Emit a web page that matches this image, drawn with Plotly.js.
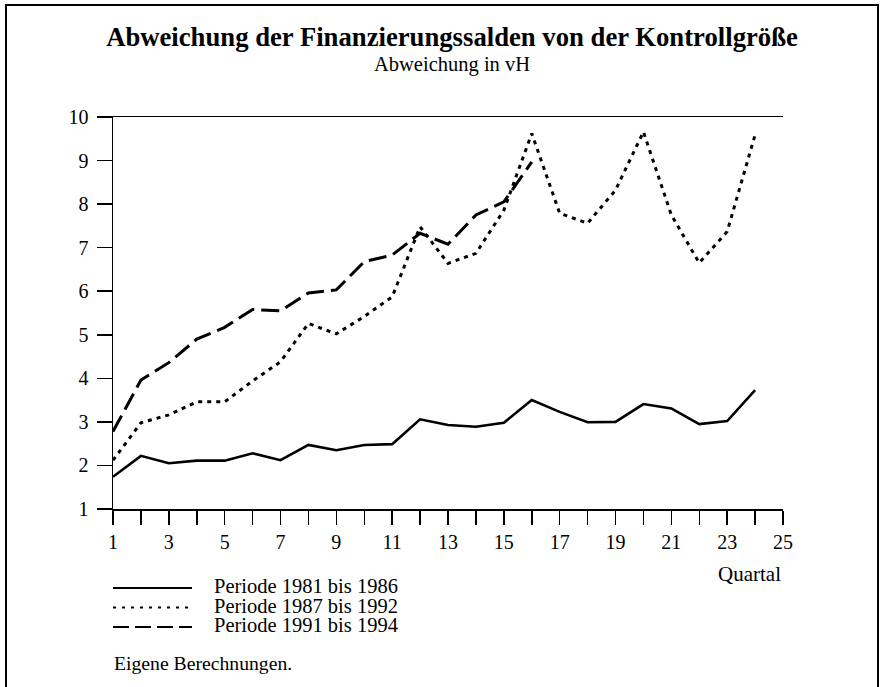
<!DOCTYPE html>
<html>
<head>
<meta charset="utf-8">
<script src="https://cdn.plot.ly/plotly-3.0.1.min.js"></script>
<style>
  html, body { margin: 0; padding: 0; background: #fff; }
  #wrap { position: relative; width: 883px; height: 687px; }
  #chart { position: absolute; left: 0; top: 0; width: 883px; height: 687px; }
  #frame { position: absolute; left: 5px; top: 4px; width: 874px; height: 700px;
           border: 2px solid #000; box-sizing: border-box; pointer-events: none; }
</style>
</head>
<body>
<div id="wrap">
  <div id="chart"></div>
  <div id="frame"></div>
</div>
<script>
// ---- data ----
const quartal = [1,2,3,4,5,6,7,8,9,10,11,12,13,14,15,16,17,18,19,20,21,22,23,24];
const periode1981_1986 = [1.74, 2.22, 2.05, 2.11, 2.11, 2.28, 2.12, 2.47, 2.35, 2.47, 2.49, 3.06,
                          2.93, 2.89, 2.98, 3.50, 3.23, 2.99, 3.00, 3.41, 3.31, 2.95, 3.02, 3.73];
const periode1987_1992 = [2.12, 2.98, 3.16, 3.46, 3.46, 3.94, 4.38, 5.26, 5.02, 5.42, 5.87, 7.48,
                          6.64, 6.87, 7.86, 9.62, 7.79, 7.56, 8.32, 9.66, 7.75, 6.65, 7.37, 9.59];
const quartal1991 = [1,2,3,4,5,6,7,8,9,10,11,12,13,14,15,16];
const periode1991_1994 = [2.78, 3.96, 4.36, 4.90, 5.17, 5.58, 5.55, 5.96, 6.03, 6.68, 6.83, 7.33,
                          7.08, 7.75, 8.05, 8.97];
const seriesNames = ["Periode 1981 bis 1986", "Periode 1987 bis 1992", "Periode 1991 bis 1994"];
const xTickVals = [1,2,3,4,5,6,7,8,9,10,11,12,13,14,15,16,17,18,19,20,21,22,23,24,25];
const xTickText = ["1","","3","","5","","7","","9","","11","","13","","15","","17","","19","","21","","23","","25"];
const yTickVals = [1,2,3,4,5,6,7,8,9,10];

const FONT = "Liberation Serif, Times New Roman, serif";
const dashDotted = "4px,5px";
const dashLong = "18px,7px";

const traces = [
  { x: quartal, y: periode1981_1986, name: seriesNames[0], mode: "lines",
    line: { color: "#000", width: 2.6, dash: "solid" } },
  { x: quartal, y: periode1987_1992, name: seriesNames[1], mode: "lines",
    line: { color: "#000", width: 3, dash: dashDotted } },
  { x: quartal1991, y: periode1991_1994, name: seriesNames[2], mode: "lines",
    line: { color: "#000", width: 3, dash: dashLong } }
];

// paper-coord helpers (plot area: left 113, right 783, top 117, bottom 509)
const L = 113, R = 783, T = 117, B = 509;
const px = v => (v - L) / (R - L);
const py = v => (B - v) / (B - T);

const legendY = [588, 607.5, 627];
const legendDash = ["solid", "3px,6px", "16px,6px"];
const shapes = legendY.map((yy, i) => ({
  type: "line", xref: "paper", yref: "paper",
  x0: px(113), x1: px(192), y0: py(yy), y1: py(yy),
  line: { color: "#000", width: 2.2, dash: legendDash[i] }
}));

const annotations = [
  { text: "Abweichung in vH", xref: "paper", yref: "paper", x: px(452), y: py(65),
    xanchor: "center", yanchor: "middle", showarrow: false,
    font: { family: FONT, size: 20.5, color: "#000" } },
  { text: "Quartal", xref: "paper", yref: "paper", x: px(783), y: py(574),
    xanchor: "right", yanchor: "middle", showarrow: false,
    font: { family: FONT, size: 21, color: "#000" } },
  { text: "Eigene Berechnungen.", xref: "paper", yref: "paper", x: px(112), y: py(663),
    xanchor: "left", yanchor: "middle", showarrow: false,
    font: { family: FONT, size: 19.7, color: "#000" } }
].concat(seriesNames.map((n, i) => ({
  text: n, xref: "paper", yref: "paper", x: px(212), y: py(legendY[i] - 2),
  xanchor: "left", yanchor: "middle", showarrow: false, height: 16,
  font: { family: FONT, size: 20.5, color: "#000" }
})));

const layout = {
  width: 883, height: 687,
  paper_bgcolor: "#fff", plot_bgcolor: "#fff",
  margin: { l: L, r: 883 - R, t: T, b: 687 - B, pad: 0 },
  showlegend: false,
  font: { family: FONT, color: "#000", size: 20 },
  title: {
    text: "<b>Abweichung der Finanzierungssalden von der Kontrollgröße</b>",
    x: 452 / 883, y: 1 - 37 / 687, xref: "container", yref: "container",
    xanchor: "center", yanchor: "middle",
    font: { family: FONT, size: 26.7, color: "#000" }
  },
  xaxis: {
    range: [1, 25], tickmode: "array", tickvals: xTickVals, ticktext: xTickText,
    ticks: "outside", ticklen: 14, tickwidth: 1.5, tickcolor: "#000",
    showline: true, linewidth: 1.5, linecolor: "#000", mirror: true,
    showgrid: false, zeroline: false,
    tickfont: { family: FONT, size: 20, color: "#000" }
  },
  yaxis: {
    range: [1, 10], tickmode: "array", tickvals: yTickVals,
    ticks: "outside", ticklen: 15, tickwidth: 1.5, tickcolor: "#000",
    ticklabelstandoff: 4,
    showline: true, linewidth: 1.5, linecolor: "#000",
    showgrid: false, zeroline: false,
    tickfont: { family: FONT, size: 20, color: "#000" }
  },
  yaxis2: {
    range: [1, 10], tickmode: "array", tickvals: yTickVals,
    overlaying: "y", side: "right",
    ticks: "outside", ticklen: 15, tickwidth: 1.5, tickcolor: "#000",
    showline: true, linewidth: 1.5, linecolor: "#000",
    showgrid: false, zeroline: false,
    tickfont: { family: FONT, size: 21, color: "#000" }
  },
  shapes: shapes,
  annotations: annotations
};

Plotly.newPlot("chart", traces, layout, { staticPlot: true, displayModeBar: false });
</script>
</body>
</html>
